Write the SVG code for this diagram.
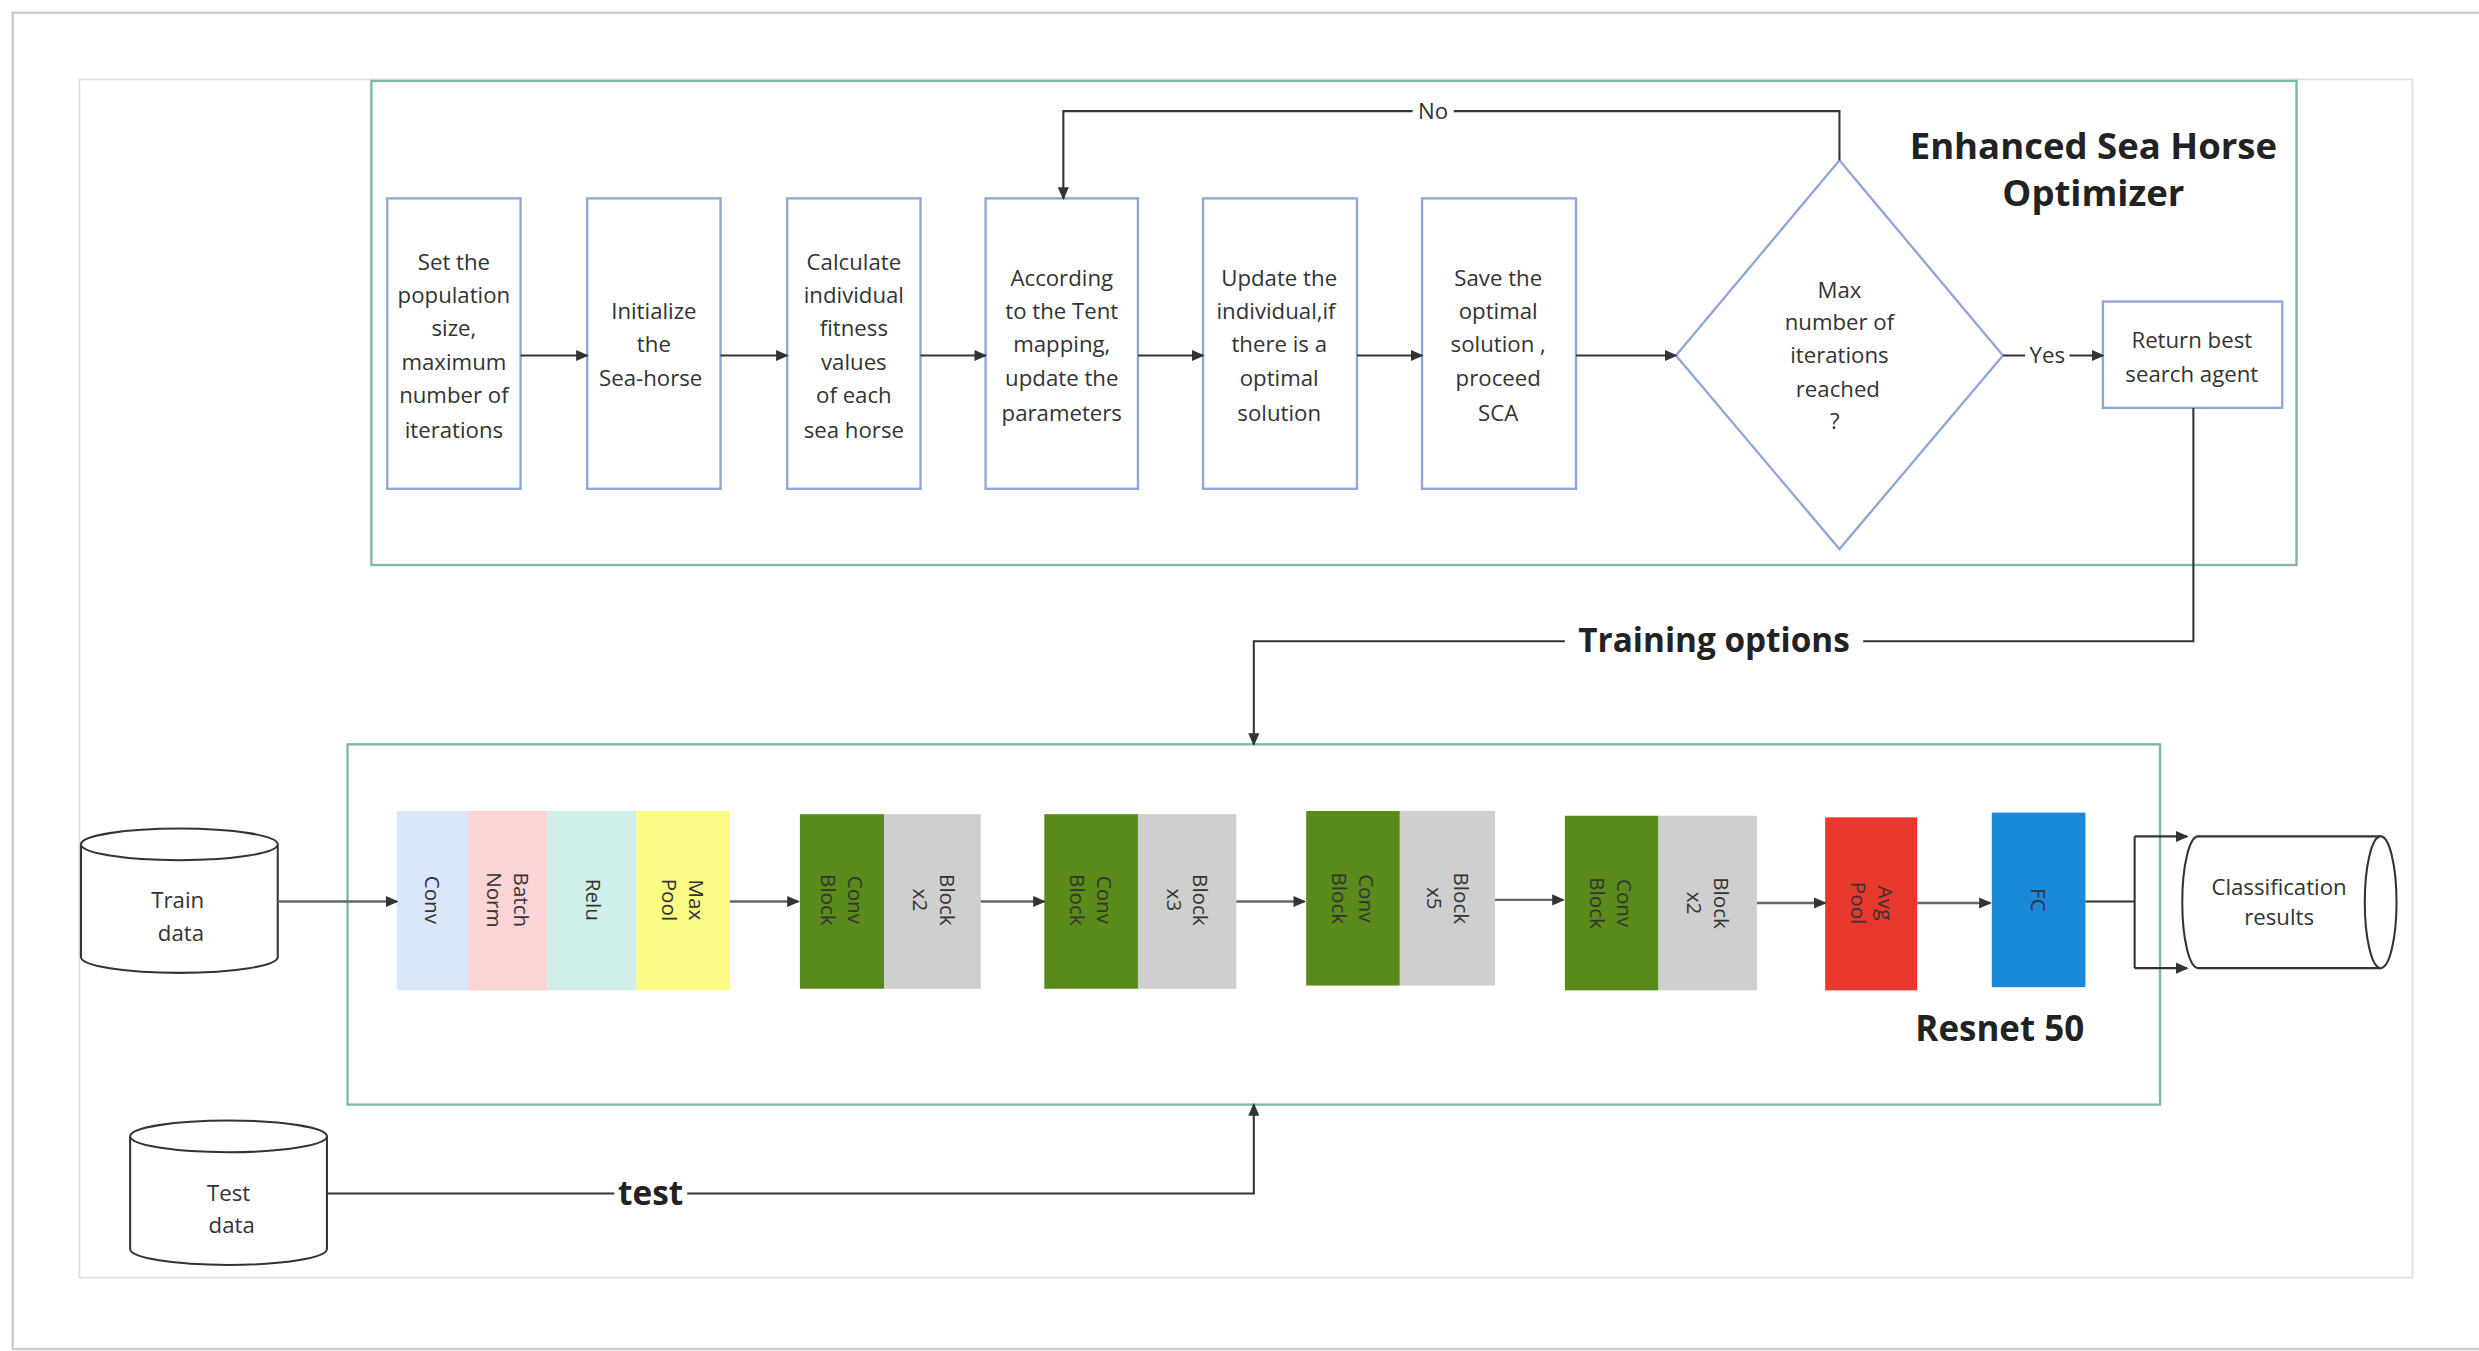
<svg xmlns="http://www.w3.org/2000/svg" width="2479" height="1351" viewBox="0 0 2479 1351">
<style>
text{font-family:"Open Sans","Liberation Sans",sans-serif;fill:#333;text-anchor:middle}
.t{font-size:14px}
.b{font-weight:bold;fill:#222}
.box{fill:#fff;stroke:#8fa8d8;stroke-width:1.5}
.ln{fill:none;stroke:#333;stroke-width:1.3}
.gl{fill:none;stroke:#666;stroke-width:1.5}
.cy{fill:#fff;stroke:#333;stroke-width:1.3}
.v{font-family:"DejaVu Sans",sans-serif;font-size:13px;fill:#222}
</style>
<defs>
<marker id="a" markerWidth="8" markerHeight="8" refX="7" refY="4" orient="auto" markerUnits="userSpaceOnUse"><path d="M0,0.5 L8,4 L0,7.5z" fill="#333"/></marker>
</defs>
<rect width="2479" height="1351" fill="#fff"/>
<g transform="scale(1.5871)">
<rect x="8" y="8" width="1560" height="842" fill="none" stroke="#ccc" stroke-width="1.5"/>
<rect x="50" y="50" width="1470" height="755" fill="none" stroke="#e0e0e0" stroke-width="1.2"/>
<g id="esho">
<rect x="234" y="51" width="1213" height="305" fill="none" stroke="#7fb8a8" stroke-width="1.5"/>
<text class="b" x="1319" y="100" font-size="23">Enhanced Sea Horse</text>
<text class="b" x="1319" y="130" font-size="23">Optimizer</text>
</g>
<g id="n1"><rect class="box" x="244" y="125" width="84" height="183"/>
<text class="t" x="286"><tspan x="286" y="170">Set the</tspan><tspan x="286" y="191">population</tspan><tspan x="286" y="212">size,</tspan><tspan x="286" y="233">maximum</tspan><tspan x="286" y="254">number of</tspan><tspan x="286" y="276">iterations</tspan></text></g>
<g id="n2"><rect class="box" x="370" y="125" width="84" height="183"/>
<text class="t"><tspan x="412" y="201">Initialize</tspan><tspan x="412" y="222">the</tspan><tspan x="410" y="243">Sea-horse</tspan></text></g>
<g id="n3"><rect class="box" x="496" y="125" width="84" height="183"/>
<text class="t"><tspan x="538" y="170">Calculate</tspan><tspan x="538" y="191">individual</tspan><tspan x="538" y="212">fitness</tspan><tspan x="538" y="233">values</tspan><tspan x="538" y="254">of each</tspan><tspan x="538" y="276">sea horse</tspan></text></g>
<g id="n4"><rect class="box" x="621" y="125" width="96" height="183"/>
<text class="t"><tspan x="669" y="180">According</tspan><tspan x="669" y="201">to the Tent</tspan><tspan x="669" y="222">mapping,</tspan><tspan x="669" y="243">update the</tspan><tspan x="669" y="265">parameters</tspan></text></g>
<g id="n5"><rect class="box" x="758" y="125" width="97" height="183"/>
<text class="t"><tspan x="806" y="180">Update the</tspan><tspan x="804" y="201">individual,if</tspan><tspan x="806" y="222">there is a</tspan><tspan x="806" y="243">optimal</tspan><tspan x="806" y="265">solution</tspan></text></g>
<g id="n6"><rect class="box" x="896" y="125" width="97" height="183"/>
<text class="t"><tspan x="944" y="180">Save the</tspan><tspan x="944" y="201">optimal</tspan><tspan x="944" y="222">solution ,</tspan><tspan x="944" y="243">proceed</tspan><tspan x="944" y="265">SCA</tspan></text></g>
<g id="n7"><polygon class="box" points="1159,101 1262,224 1159,346 1056,224"/>
<text class="t"><tspan x="1159" y="188">Max</tspan><tspan x="1159" y="208">number of</tspan><tspan x="1159" y="229">iterations</tspan><tspan x="1158" y="250">reached</tspan><tspan x="1156" y="270">?</tspan></text></g>
<g id="n8"><rect class="box" x="1325" y="190" width="113" height="67"/>
<text class="t"><tspan x="1381" y="219">Return best</tspan><tspan x="1381" y="241">search agent</tspan></text></g>
<g id="resnet">
<rect x="219" y="469" width="1142" height="227" fill="none" stroke="#7fb8a8" stroke-width="1.5"/>
<text class="b" x="1260" y="656" font-size="22">Resnet 50</text>
<rect x="250" y="511" width="45" height="113" fill="#dae6fa"/>
<rect x="295" y="511" width="50" height="113" fill="#fbd5d5"/>
<rect x="345" y="511" width="56" height="113" fill="#d0efe8"/>
<rect x="401" y="511" width="59" height="113" fill="#fbfb86"/>
<rect x="504" y="513" width="53" height="110" fill="#5a8a1a"/><rect x="557" y="513" width="61" height="110" fill="#cfcfcf"/>
<rect x="658" y="513" width="59" height="110" fill="#5a8a1a"/><rect x="717" y="513" width="62" height="110" fill="#cfcfcf"/>
<rect x="823" y="511" width="59" height="110" fill="#5a8a1a"/><rect x="882" y="511" width="60" height="110" fill="#cfcfcf"/>
<rect x="986" y="514" width="59" height="110" fill="#5a8a1a"/><rect x="1045" y="514" width="62" height="110" fill="#cfcfcf"/>
<rect x="1150" y="515" width="58" height="109" fill="#e8382e"/>
<rect x="1255" y="512" width="59" height="110" fill="#1a8ad8"/>
<g class="v">
<text transform="translate(272,567) rotate(90)"><tspan x="0" y="4">Conv</tspan></text>
<text transform="translate(320,567) rotate(90)"><tspan x="0" y="-4">Batch</tspan><tspan x="0" y="13">Norm</tspan></text>
<text transform="translate(373,567) rotate(90)"><tspan x="0" y="4">Relu</tspan></text>
<text transform="translate(430,567) rotate(90)"><tspan x="0" y="-4">Max</tspan><tspan x="0" y="13">Pool</tspan></text>
<text transform="translate(530,567) rotate(90)"><tspan x="0" y="-4">Conv</tspan><tspan x="0" y="13">Block</tspan></text>
<text transform="translate(588,567) rotate(90)"><tspan x="0" y="-4">Block</tspan><tspan x="0" y="13">x2</tspan></text>
<text transform="translate(687,567) rotate(90)"><tspan x="0" y="-4">Conv</tspan><tspan x="0" y="13">Block</tspan></text>
<text transform="translate(748,567) rotate(90)"><tspan x="0" y="-4">Block</tspan><tspan x="0" y="13">x3</tspan></text>
<text transform="translate(852,566) rotate(90)"><tspan x="0" y="-4">Conv</tspan><tspan x="0" y="13">Block</tspan></text>
<text transform="translate(912,566) rotate(90)"><tspan x="0" y="-4">Block</tspan><tspan x="0" y="13">x5</tspan></text>
<text transform="translate(1015,569) rotate(90)"><tspan x="0" y="-4">Conv</tspan><tspan x="0" y="13">Block</tspan></text>
<text transform="translate(1076,569) rotate(90)"><tspan x="0" y="-4">Block</tspan><tspan x="0" y="13">x2</tspan></text>
<text transform="translate(1179,569) rotate(90)"><tspan x="0" y="-4">Avg</tspan><tspan x="0" y="13">Pool</tspan></text>
<text transform="translate(1284,567) rotate(90)"><tspan x="0" y="4">FC</tspan></text>
</g>
</g>
<g id="train"><path class="cy" d="M51,532 A62,10 0 0 1 175,532 V603 A62,10 0 0 1 51,603Z"/><path class="cy" d="M51,532 A62,10 0 0 0 175,532"/>
<text class="t"><tspan x="112" y="572">Train</tspan><tspan x="114" y="593">data</tspan></text></g>
<g id="test"><path class="cy" d="M82,716 A62,10 0 0 1 206,716 V787 A62,10 0 0 1 82,787Z"/><path class="cy" d="M82,716 A62,10 0 0 0 206,716"/>
<text class="t"><tspan x="144" y="757">Test</tspan><tspan x="146" y="777">data</tspan></text></g>
<g id="cls"><path class="cy" d="M1385,527 H1500 A10,41.5 0 0 1 1500,610 H1385 A10,41.5 0 0 1 1385,527Z"/><path class="cy" d="M1500,527 A10,41.5 0 0 0 1500,610"/>
<text class="t"><tspan x="1436" y="564">Classification</tspan><tspan x="1436" y="583">results</tspan></text></g>
<g id="connectors">
<line class="ln" x1="328" y1="224" x2="370" y2="224" marker-end="url(#a)"/>
<line class="ln" x1="454" y1="224" x2="496" y2="224" marker-end="url(#a)"/>
<line class="ln" x1="580" y1="224" x2="621" y2="224" marker-end="url(#a)"/>
<line class="ln" x1="717" y1="224" x2="758" y2="224" marker-end="url(#a)"/>
<line class="ln" x1="855" y1="224" x2="896" y2="224" marker-end="url(#a)"/>
<line class="ln" x1="993" y1="224" x2="1056" y2="224" marker-end="url(#a)"/>
<path class="ln" d="M1159,101 V70 H670 V125" marker-end="url(#a)"/>
<rect x="890" y="62" width="26" height="16" fill="#fff"/><text class="t" x="903" y="75">No</text>
<line class="ln" x1="1262" y1="224" x2="1325" y2="224" marker-end="url(#a)"/>
<rect x="1276" y="216" width="28" height="16" fill="#fff"/><text class="t" x="1290" y="229">Yes</text>
<path class="ln" d="M1382,257 V404 H790 V469" marker-end="url(#a)"/>
<rect x="986" y="390" width="188" height="26" fill="#fff"/><text class="b" x="1080" y="411" font-size="21">Training  options</text>
<path class="ln" d="M206,752 H790 V696" marker-end="url(#a)"/>
<rect x="387" y="740" width="46" height="24" fill="#fff"/><text class="b" x="410" y="759" font-size="21">test</text>
<line class="gl" x1="175" y1="568" x2="250" y2="568" marker-end="url(#a)"/>
<line class="gl" x1="460" y1="568" x2="503" y2="568" marker-end="url(#a)"/>
<line class="gl" x1="618" y1="568" x2="658" y2="568" marker-end="url(#a)"/>
<line class="gl" x1="779" y1="568" x2="822" y2="568" marker-end="url(#a)"/>
<line class="gl" x1="942" y1="567" x2="985" y2="567" marker-end="url(#a)"/>
<line class="gl" x1="1107" y1="569" x2="1150" y2="569" marker-end="url(#a)"/>
<line class="gl" x1="1208" y1="569" x2="1254" y2="569" marker-end="url(#a)"/>
<path class="ln" d="M1314,568 H1345"/>
<path class="ln" d="M1345,527 V610"/>
<line class="ln" x1="1345" y1="527" x2="1378" y2="527" marker-end="url(#a)"/>
<line class="ln" x1="1345" y1="610" x2="1378" y2="610" marker-end="url(#a)"/>
</g>
</g>
</svg>
